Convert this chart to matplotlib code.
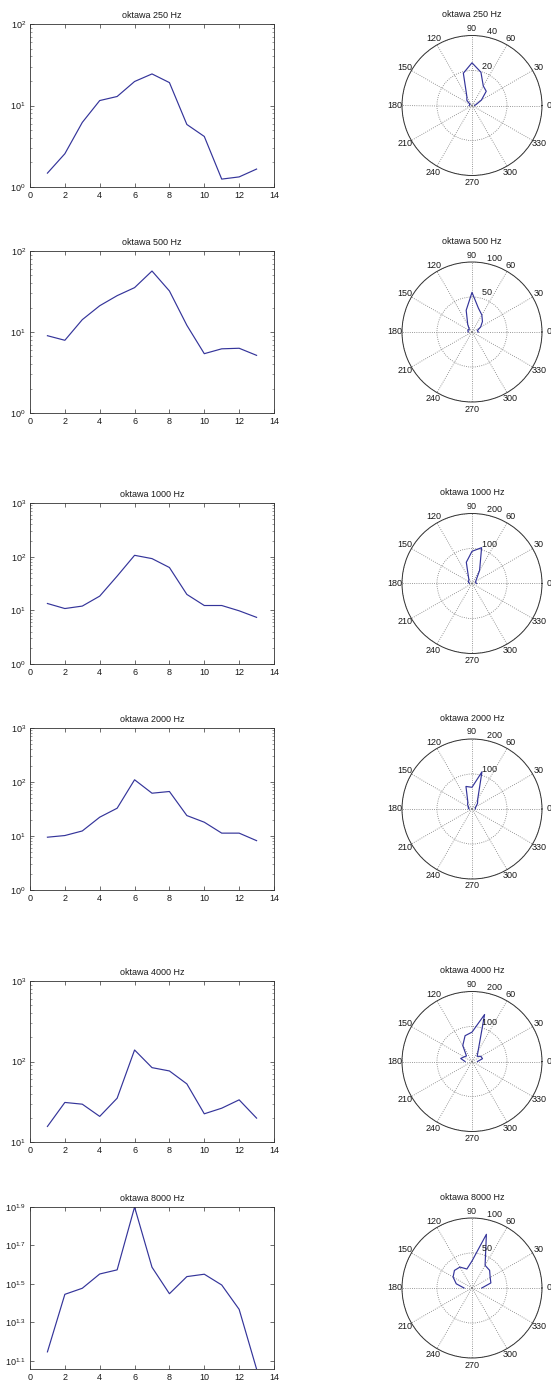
import numpy as np
import matplotlib
matplotlib.use("Agg")
import matplotlib.pyplot as plt
from matplotlib.ticker import FixedLocator, NullLocator, LogLocator, NullFormatter

plt.rcParams["font.family"] = ["Liberation Sans", "DejaVu Sans"]
plt.rcParams["mathtext.fontset"] = "custom"
plt.rcParams["mathtext.rm"] = "Liberation Sans"
plt.rcParams["mathtext.it"] = "Liberation Sans:italic"
plt.rcParams["mathtext.bf"] = "Liberation Sans:bold"

# measurement positions and the matching directions (degrees)
positions = [1, 2, 3, 4, 5, 6, 7, 8, 9, 10, 11, 12, 13]
angles_deg = [0, 15, 30, 45, 60, 75, 90, 105, 120, 135, 150, 165, 180]

titles = ["oktawa 250 Hz", "oktawa 500 Hz", "oktawa 1000 Hz",
          "oktawa 2000 Hz", "oktawa 4000 Hz", "oktawa 8000 Hz"]

level_250 = [1.48, 2.56, 6.2, 11.5, 12.9, 19.7, 24.4, 19.1, 5.85, 4.17, 1.25, 1.33, 1.66]
level_500 = [9.0, 7.9, 14.2, 21.1, 28.1, 35.3, 56.6, 32.1, 12.1, 5.4, 6.2, 6.3, 5.15]
level_1000 = [13.4, 10.8, 12.0, 18.4, 43.4, 106, 92, 62.8, 19.8, 12.3, 12.3, 9.8, 7.4]
level_2000 = [9.5, 10.2, 12.4, 22.3, 32.7, 110, 62, 66.7, 23.9, 18.0, 11.3, 11.3, 8.2]
level_4000 = [15.6, 31.0, 29.5, 20.8, 35.0, 139, 83.9, 76.3, 52.7, 22.4, 26.3, 33.4, 19.8]
level_8000 = [14.0, 27.9, 30.0, 35.6, 37.4, 79.4, 38.6, 28.1, 34.5, 35.5, 31.2, 23.3, 11.4]
levels = [level_250, level_500, level_1000, level_2000, level_4000, level_8000]

# logarithmic ranges of the left column and radial range of the right column
y_ranges = [(1, 100), (1, 100), (1, 1000), (1, 1000), (10, 1000), (10 ** 1.057, 10 ** 1.9)]
r_max = [40, 100, 200, 200, 200, 100]

# exponents used on the 8000 Hz axis
exp_8000 = [1.1, 1.3, 1.5, 1.7, 1.9]

x_ticks = [0, 2, 4, 6, 8, 10, 12, 14]
polar_ticks = [0, 30, 60, 90, 120, 150, 180, 210, 240, 270, 300, 330]

W, H = 551, 1382
fig = plt.figure(figsize=(W / 100, H / 100), dpi=100)
fig.patch.set_facecolor("white")

line_color = "#34349a"
text_color = "#1a1a1a"
fs = 6.5

# pixel rows (top, bottom) of the left plots
rows_px = [(24, 187), (251, 413), (503, 664), (728, 890), (981, 1142), (1207, 1369)]
left_px, right_px = 30, 274
polar_cx, polar_rad = 472, 70

for i in range(6):
    top, bot = rows_px[i]
    ax = fig.add_axes([left_px / W, 1 - bot / H, (right_px - left_px) / W, (bot - top) / H])
    ax.semilogy(positions, levels[i], color=line_color, lw=0.85)
    ax.set_xlim(0, 14)
    ax.set_ylim(*y_ranges[i])
    ax.set_xticks(x_ticks)
    ax.set_xticklabels([str(t) for t in x_ticks])
    if i == 5:
        ax.yaxis.set_major_locator(FixedLocator([10 ** e for e in exp_8000]))
        ax.set_yticklabels(["$10^{%.1f}$" % e for e in exp_8000])
        ax.yaxis.set_minor_locator(NullLocator())
    else:
        lo, hi = y_ranges[i]
        exps = list(range(int(round(np.log10(lo))), int(round(np.log10(hi))) + 1))
        ax.yaxis.set_major_locator(FixedLocator([10.0 ** e for e in exps]))
        ax.set_yticklabels(["$10^{%d}$" % e for e in exps])
        ax.yaxis.set_minor_locator(LogLocator(base=10, subs=np.arange(2, 10)))
        ax.yaxis.set_minor_formatter(NullFormatter())
    ax.tick_params(which="major", direction="in", top=True, right=True,
                   length=3, width=0.5, labelsize=fs, colors="#333333",
                   labelcolor=text_color, pad=3)
    ax.tick_params(which="minor", direction="in", right=True, length=1.5,
                   width=0.4, colors="#555555")
    for s in ax.spines.values():
        s.set_linewidth(0.6)
        s.set_color("#333333")
    ax.set_title(titles[i], fontsize=fs, color=text_color, pad=4)

    # polar view of the same data
    cy = (top + bot) / 2
    pax = fig.add_axes([(polar_cx - polar_rad) / W, 1 - (cy + polar_rad) / H,
                        2 * polar_rad / W, 2 * polar_rad / H], projection="polar")
    rm = r_max[i]
    pax.plot(np.deg2rad(angles_deg), levels[i], color=line_color, lw=0.85)
    pax.set_ylim(0, rm)
    pax.set_yticks([rm / 2, rm])
    pax.set_yticklabels([])
    pax.set_xticks(np.deg2rad(polar_ticks))
    pax.set_xticklabels([])
    pax.grid(True, linestyle=":", color="#777777", linewidth=0.6)
    pax.spines["polar"].set_linewidth(0.7)
    pax.spines["polar"].set_color("#333333")
    pax.tick_params(length=0)
    for a in polar_ticks:
        pax.text(np.deg2rad(a), 1.1 * rm, str(a), ha="center", va="center",
                 fontsize=fs, color=text_color, clip_on=False)
    for r in [rm / 2, rm]:
        pax.text(np.deg2rad(82), r, "  %g" % r, ha="left", va="bottom",
                 fontsize=fs, color=text_color, clip_on=False)
    pax.set_title(titles[i], fontsize=fs, color=text_color, y=1.13, pad=0)

fig.savefig("out.png", dpi=100, facecolor="white")
